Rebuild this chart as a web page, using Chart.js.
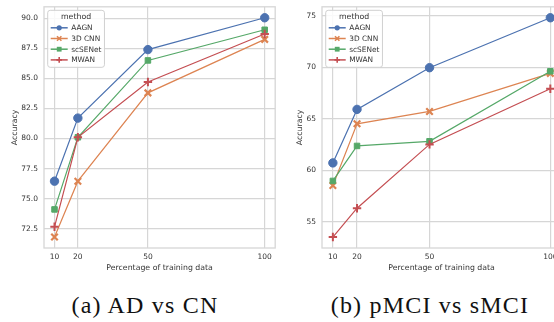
<!DOCTYPE html>
<html>
<head>
<meta charset="utf-8">
<script src="https://cdn.jsdelivr.net/npm/chart.js@4/dist/chart.umd.min.js"></script>
<style>
  html, body { margin: 0; padding: 0; background: #fff; }
  body { width: 554px; height: 322px; overflow: hidden; position: relative; }
  .panel { position: absolute; top: 0; height: 275px; }
  .caption {
    position: absolute; top: 293px; line-height: 24px; white-space: nowrap;
    font-family: "Liberation Serif", serif; font-size: 24px; letter-spacing: 1.2px;
    color: #111; transform: translateX(-50%);
  }
</style>
</head>
<body>
<div class="panel" style="left:0;width:282px"><canvas id="chartA"></canvas></div>
<div class="panel" style="left:282px;width:286px"><canvas id="chartB"></canvas></div>
<div class="caption" style="left:145px">(a) AD vs CN</div>
<div class="caption" style="left:430px">(b) pMCI vs sMCI</div>
<script>
const percentages = [10, 20, 50, 100];
const methods = ["AAGN", "3D CNN", "scSENet", "MWAN"];

// (a) AD vs CN
const adAAGN = [76.45, 81.7, 87.4, 90.05];
const adCNN = [71.8, 76.45, 83.8, 88.25];
const adSCSE = [74.1, 80.1, 86.5, 89.05];
const adMWAN = [72.65, 80.1, 84.7, 88.7];
const adTicks = [72.5, 75.0, 77.5, 80.0, 82.5, 85.0, 87.5, 90.0];

// (b) pMCI vs sMCI
const mciAAGN = [60.7, 65.9, 69.95, 74.8];
const mciCNN = [58.5, 64.5, 65.7, 69.4];
const mciSCSE = [58.95, 62.35, 62.8, 69.6];
const mciMWAN = [53.5, 56.3, 62.5, 67.9];
const mciTicks = [55, 60, 65, 70, 75];

const colors = ["#4C72B0", "#DD8452", "#55A868", "#C44E52"];
const markers = ["circle", "crossRot", "rect", "cross"];
const markerSize = [4.2, 4.6, 3.9, 4.2];
const markerWidth = [1, 2.2, 1, 2];

const gridColor = "#d6d6d6";
const textColor = "#333";
const sansFont = "'DejaVu Sans', sans-serif";

function makeDatasets(series) {
    return series.map((values, i) => ({
        label: methods[i],
        data: values.map((v, j) => ({ x: percentages[j], y: v })),
        borderColor: colors[i],
        backgroundColor: colors[i],
        pointBackgroundColor: colors[i],
        pointBorderColor: colors[i],
        pointStyle: markers[i],
        pointRadius: markerSize[i],
        pointBorderWidth: markerWidth[i],
        borderWidth: 1.2,
        order: series.length - i,
        tension: 0
    }));
}

function legendMarker(ctx, style, x, y, color) {
    ctx.save();
    ctx.fillStyle = color;
    ctx.strokeStyle = color;
    if (style === "circle") {
        ctx.beginPath(); ctx.arc(x, y, 2.6, 0, Math.PI * 2); ctx.fill();
    } else if (style === "rect") {
        ctx.fillRect(x - 2.4, y - 2.4, 4.8, 4.8);
    } else if (style === "cross") {
        ctx.lineWidth = 1.6;
        ctx.beginPath();
        ctx.moveTo(x - 2.8, y); ctx.lineTo(x + 2.8, y);
        ctx.moveTo(x, y - 2.8); ctx.lineTo(x, y + 2.8);
        ctx.stroke();
    } else {
        ctx.lineWidth = 1.6;
        ctx.beginPath();
        ctx.moveTo(x - 2.2, y - 2.2); ctx.lineTo(x + 2.2, y + 2.2);
        ctx.moveTo(x + 2.2, y - 2.2); ctx.lineTo(x - 2.2, y + 2.2);
        ctx.stroke();
    }
    ctx.restore();
}

const framePlugin = {
    id: "frame",
    beforeDatasetsDraw(chart) {
        const { ctx, chartArea: a } = chart;
        ctx.save();
        ctx.strokeStyle = gridColor;
        ctx.lineWidth = 1.3;
        ctx.strokeRect(a.left, a.top, a.right - a.left, a.bottom - a.top);
        ctx.restore();
    },
    afterDatasetsDraw(chart) {
        const { ctx, chartArea: a } = chart;
        ctx.save();
        ctx.font = "7.4px " + sansFont;
        const textW = Math.max(...methods.map(m => ctx.measureText(m).width));
        const bx = a.left + 3.7, by = a.top + 3.5;
        const bw = 3 + 17 + 3.5 + textW + 3;
        const bh = 57;
        ctx.fillStyle = "rgba(255,255,255,0.85)";
        ctx.strokeStyle = "#d0d0d0";
        ctx.lineWidth = 1;
        ctx.beginPath();
        ctx.roundRect(bx, by, bw, bh, 2.5);
        ctx.fill();
        ctx.stroke();

        ctx.fillStyle = textColor;
        ctx.textBaseline = "middle";
        ctx.textAlign = "center";
        ctx.font = "7.8px " + sansFont;
        ctx.fillText("method", bx + bw / 2, by + 7);
        ctx.font = "7.4px " + sansFont;
        ctx.textAlign = "left";
        methods.forEach((m, i) => {
            const y = by + 17.5 + i * 10.7;
            ctx.strokeStyle = colors[i];
            ctx.lineWidth = 1.5;
            ctx.beginPath();
            ctx.moveTo(bx + 3, y);
            ctx.lineTo(bx + 20, y);
            ctx.stroke();
            legendMarker(ctx, markers[i], bx + 11.5, y, colors[i]);
            ctx.fillStyle = textColor;
            ctx.fillText(m, bx + 23.5, y + 0.5);
        });
        ctx.restore();
    }
};

function drawPanel(canvasId, series, yTicks, yFormat, yAxisWidth, titlePad) {
    const all = series.flat();
    const lo = Math.min(...all), hi = Math.max(...all);
    const ySpan = hi - lo;
    const xSpan = percentages[percentages.length - 1] - percentages[0];

    return new Chart(document.getElementById(canvasId), {
        type: "line",
        data: { datasets: makeDatasets(series) },
        options: {
            responsive: true,
            maintainAspectRatio: false,
            animation: false,
            layout: { padding: { top: 4, right: 4, left: 0, bottom: 0 } },
            plugins: { legend: { display: false }, tooltip: { enabled: false } },
            scales: {
                x: {
                    type: "linear",
                    min: percentages[0] - 0.05 * xSpan,
                    max: percentages[percentages.length - 1] + 0.05 * xSpan,
                    afterBuildTicks: s => { s.ticks = percentages.map(v => ({ value: v })); },
                    afterFit: s => { s.height = 27; s.paddingLeft = 0; s.paddingRight = 0; },
                    grid: { color: gridColor, lineWidth: 1.2, drawTicks: false },
                    border: { display: false },
                    ticks: { color: textColor, padding: 5, font: { size: 7.5, family: sansFont }, callback: v => String(v) },
                    title: { display: true, text: "Percentage of training data", color: textColor,
                             font: { size: 7.8, family: sansFont }, padding: { top: 0, bottom: 2.6 } }
                },
                y: {
                    min: lo - 0.05 * ySpan,
                    max: hi + 0.05 * ySpan,
                    afterBuildTicks: s => { s.ticks = yTicks.map(v => ({ value: v })); },
                    afterFit: s => { s.width = yAxisWidth; s.paddingTop = 0; s.paddingBottom = 0; },
                    grid: { color: gridColor, lineWidth: 1.2, drawTicks: false },
                    border: { display: false },
                    ticks: { color: textColor, padding: 6, font: { size: 7.5, family: sansFont }, callback: yFormat },
                    title: { display: true, text: "Accuracy", color: textColor,
                             font: { size: 7.8, family: sansFont }, padding: { top: titlePad, bottom: 0 } }
                }
            }
        },
        plugins: [framePlugin]
    });
}

drawPanel("chartA", [adAAGN, adCNN, adSCSE, adMWAN], adTicks, v => v.toFixed(1), 44, 10.3);
drawPanel("chartB", [mciAAGN, mciCNN, mciSCSE, mciMWAN], mciTicks, v => String(v), 40, 13.3);
</script>
</body>
</html>
